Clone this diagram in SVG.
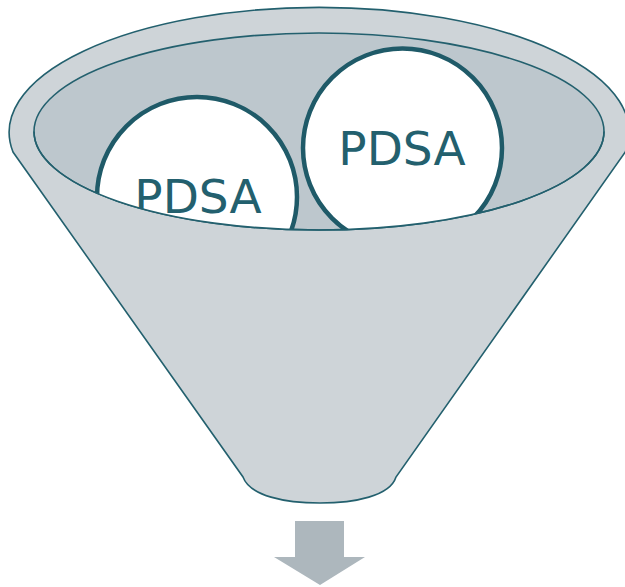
<svg xmlns="http://www.w3.org/2000/svg" width="625" height="587" viewBox="0 0 625 587">
<style>
.edge{stroke:#23606E;stroke-width:1.6;}
.ball{fill:#FFFFFF;stroke:#1F5A68;stroke-width:4.5;}
.lbl{font-family:"DejaVu Sans",Verdana,sans-serif;font-size:47px;fill:#23606E;text-anchor:middle;}
</style>
<defs>
<clipPath id="mouth"><ellipse cx="319" cy="131.5" rx="285" ry="98.5"/></clipPath>
</defs>
<g id="funnel">
<path class="edge" fill="#CED4D8" d="M 13,152 A 310 125 0 1 1 625.3,152 L 396,477 C 390,496 355,503 320,503 C 285,503 250,496 243,477 Z"/>
<ellipse class="edge" fill="#BDC7CD" cx="319" cy="131.5" rx="285" ry="98.5"/>
</g>
<g id="pdsa1" clip-path="url(#mouth)">
<circle class="ball" cx="197" cy="197" r="100"/>
<text class="lbl" x="198" y="213">PDSA</text>
</g>
<g id="pdsa2" clip-path="url(#mouth)">
<circle class="ball" cx="402.5" cy="148" r="99.5"/>
<text class="lbl" x="402" y="165">PDSA</text>
</g>
<g id="lip">
<path class="edge" fill="none" d="M 34,131.5 A 285 98.5 0 0 0 604,131.5"/>
</g>
<g id="connectors">
<path fill="#ADB7BD" d="M 295,521 L 344,521 L 344,557 L 365,557 L 320,585 L 274,557 L 295,557 Z"/>
</g>
</svg>
